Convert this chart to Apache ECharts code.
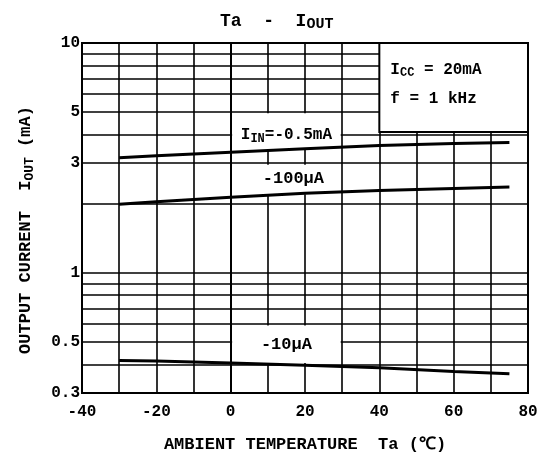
<!DOCTYPE html>
<html>
<head>
<meta charset="utf-8">
<script src="https://cdn.jsdelivr.net/npm/echarts@6/dist/echarts.min.js"></script>
<style>
html,body{margin:0;padding:0;background:#fff;}
#c{width:539px;height:455px;}
</style>
</head>
<body>
<div id="c"></div>
<script>
// ---- data ----
var temps = [-30, -20, 0, 20, 40, 60, 75];
var iout05mA = [3.17, 3.23, 3.35, 3.47, 3.58, 3.65, 3.69];
var iout100uA = [1.99, 2.04, 2.13, 2.22, 2.28, 2.33, 2.36];
var iout10uA = [0.415, 0.413, 0.405, 0.396, 0.386, 0.372, 0.364];
var xTickLabels = [-40, -20, 0, 20, 40, 60, 80];
var yTickLabels = [0.3, 0.5, 1, 3, 5, 10];
var yGridLines = [0.4, 0.5, 0.6, 0.7, 0.8, 0.9, 1, 2, 3, 4, 5, 6, 7, 8, 9];
var titleText = 'Ta  -  I';
var titleSub = 'OUT';
var xName = 'AMBIENT TEMPERATURE  Ta (\u2103)';
var yNameA = 'OUTPUT CURRENT  I';
var yNameSub = 'OUT';
var yNameB = ' (mA)';
var condLine1 = ['I', 'CC', ' = 20mA'];
var condLine2 = 'f = 1 kHz';
var label05 = ['I', 'IN', '=-0.5mA'];
var label100 = '-100\u03bcA';
var label10 = '-10\u03bcA';

var FONT = 'Liberation Mono';
var BASE = {fontFamily: FONT, fontWeight: 'bold', color: '#000'};
function st(o){ return Object.assign({}, BASE, o); }

function pairs(xs, ys){ return xs.map(function(x, i){ return [x, ys[i]]; }); }

var chart = echarts.init(document.getElementById('c'), null, {renderer: 'canvas'});
var option = {
  backgroundColor: '#fff',
  animation: false,
  title: {
    text: '{t|' + titleText + '}{sub|' + titleSub + '}',
    left: 215, top: 6,
    textStyle: {rich: {t: st({fontSize: 18}), sub: st({fontSize: 15, padding: [6, 0, 0, 0]})}}
  },
  grid: {left: 82, right: 11, top: 43, bottom: 62, show: true, borderColor: '#000', borderWidth: 2,
         backgroundColor: 'transparent', outerBoundsMode: 'none', containLabel: false},
  xAxis: {
    type: 'value', min: -40, max: 80, interval: 10,
    name: xName, nameLocation: 'middle', nameGap: 43,
    nameTextStyle: st({fontSize: 17}),
    axisLine: {lineStyle: {color: '#000', width: 2}},
    axisTick: {show: false},
    axisLabel: st({fontSize: 16, margin: 11, customValues: xTickLabels}),
    splitLine: {show: true, lineStyle: {color: '#000', width: 1.6}}
  },
  yAxis: {
    type: 'log', logBase: 10, min: 0.3, max: 10,
    name: '{t|' + yNameA + '}{sub|' + yNameSub + '}{t|' + yNameB + '}',
    nameLocation: 'middle', nameGap: 46,
    nameTextStyle: {rich: {t: st({fontSize: 17}), sub: st({fontSize: 13, padding: [7,0,0,0]})}, padding: [0, 24, 0, 0]},
    axisLine: {lineStyle: {color: '#000', width: 2}},
    axisTick: {show: false},
    axisLabel: st({fontSize: 16, margin: 2, customValues: yTickLabels}),
    splitLine: {show: false}
  },
  series: [
    {
      type: 'line', name: 'grid', data: [], silent: true,
      markLine: {
        silent: true, symbol: ['none', 'none'], z: 1, animation: false,
        label: {show: false},
        lineStyle: {color: '#000', width: 1.6, type: 'solid'},
        data: yGridLines.map(function(v){ return {yAxis: v}; })
      },
      markArea: {
        silent: true, z: 3, animation: false,
        itemStyle: {color: '#fff', borderWidth: 0},
        data: [
          [{xAxis: 40, yAxis: 4.1, itemStyle: {color: '#fff', borderColor: '#000', borderWidth: 2},
            label: {show: true, position: 'insideTopLeft', distance: 0, padding: [13, 0, 0, 12],
              formatter: '{t|' + condLine1[0] + '}{sub|' + condLine1[1] + '}{t|' + condLine1[2] + '}\n{t|' + condLine2 + '}',
              rich: {t: st({fontSize: 16, lineHeight: 29}), sub: st({fontSize: 12, lineHeight: 29, padding: [7,0,0,0]})}}},
           {xAxis: 80, yAxis: 10}],
          [{xAxis: 0.4, yAxis: 3.45,
            label: {show: true, position: 'inside', offset: [0, 4],
              formatter: '{t|' + label05[0] + '}{sub|' + label05[1] + '}{t|' + label05[2] + '}',
              rich: {t: st({fontSize: 16}), sub: st({fontSize: 12, padding: [8,0,0,0]})}}},
           {xAxis: 29.6, yAxis: 4.95}],
          [{xAxis: 0.4, yAxis: 2.2,
            label: {show: true, position: 'inside', offset: [7, -1],
              formatter: label100, fontFamily: FONT, fontWeight: 'bold', fontSize: 17, color: '#000'}},
           {xAxis: 29.6, yAxis: 2.95}],
          [{xAxis: 0.4, yAxis: 0.405,
            label: {show: true, position: 'inside', offset: [0, 0],
              formatter: label10, fontFamily: FONT, fontWeight: 'bold', fontSize: 17, color: '#000'}},
           {xAxis: 29.6, yAxis: 0.59}]
        ]
      }
    },
    {type: 'line', name: '0.5mA', z: 5, data: pairs(temps, iout05mA), showSymbol: false, symbol: 'none', lineStyle: {color: '#000', width: 3}},
    {type: 'line', name: '100uA', z: 5, data: pairs(temps, iout100uA), showSymbol: false, symbol: 'none', lineStyle: {color: '#000', width: 3}},
    {type: 'line', name: '10uA', z: 5, data: pairs(temps, iout10uA), showSymbol: false, symbol: 'none', lineStyle: {color: '#000', width: 3}}
  ]
};
chart.setOption(option);
</script>
</body>
</html>
